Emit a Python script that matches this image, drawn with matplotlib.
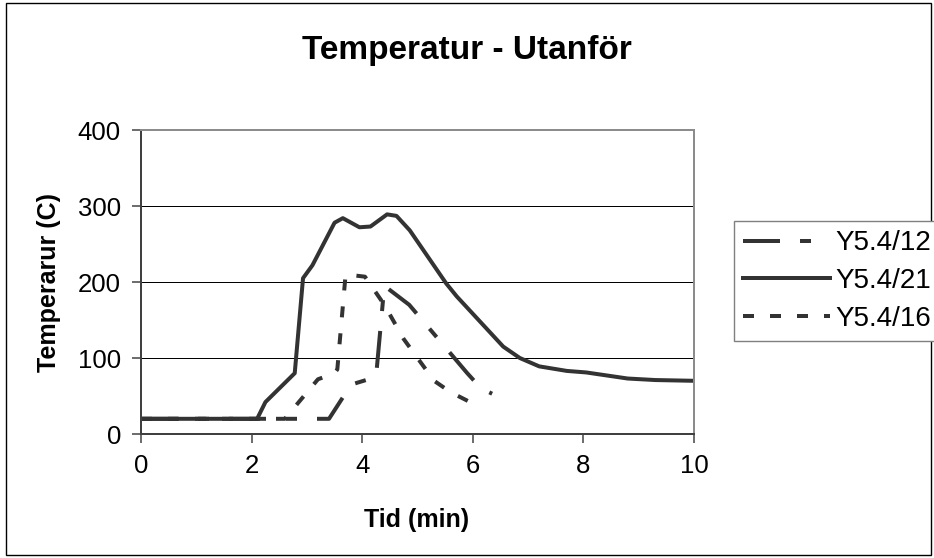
"""
Temperatur - Utanför: three thermocouple series (Y5.4/12, Y5.4/21, Y5.4/16)
plotted against time, styled like the old Excel chart.

Output: out.png (934x558)
"""
import matplotlib
matplotlib.use("Agg")
import matplotlib.pyplot as plt
from matplotlib.patches import Rectangle

# --- data -------------------------------------------------------------------
t_12 = [0, 3.4, 3.8, 4.25, 4.4, 4.85, 5.9, 6.15, 6.35]
temp_12 = [20, 20, 65, 75, 195, 170, 80, 60, 53]

t_21 = [0, 2.1, 2.25, 2.78, 2.93, 3.1, 3.5, 3.65, 3.95, 4.15, 4.45, 4.62,
        4.86, 5.52, 5.71, 6.55, 6.85, 7.2, 7.7, 8.05, 8.8, 9.3, 10]
temp_21 = [20, 20, 42, 80, 205, 222, 278, 284, 272, 273, 289, 287,
           268, 198, 181, 115, 100, 89, 83, 81, 73, 71, 70]

t_16 = [0, 2.6, 3.2, 3.5, 3.55, 3.7, 4.05, 4.4, 4.75, 5.0, 5.3, 5.6, 5.95]
temp_16 = [20, 20, 72, 80, 85, 210, 207, 170, 125, 100, 70, 55, 42]

labels = ["Y5.4/12", "Y5.4/21", "Y5.4/16"]
x_ticks = [0, 2, 4, 6, 8, 10]
y_ticks = [0, 100, 200, 300, 400]

title = "Temperatur - Utanför"
x_label = "Tid (min)"
y_label = "Temperarur (C)"

# --- layout (pixels of a 934x558 canvas) ------------------------------------
W, H, DPI = 934, 558, 100
PX = 72.0 / DPI  # points per pixel
LINE = "#333333"


def fx(px):
    return px / W


def fy(py):
    return 1 - py / H


plt.rcParams["font.family"] = ["Liberation Sans", "DejaVu Sans"]
plt.rcParams["lines.scale_dashes"] = False

fig = plt.figure(figsize=(W / DPI, H / DPI), dpi=DPI)

# outer chart border
fig.patches.append(Rectangle((fx(6), fy(555)), fx(925), 552 / H,
                             transform=fig.transFigure, fill=False,
                             edgecolor="black", linewidth=1.0))

ax = fig.add_axes([fx(141), fy(434), fx(694) - fx(141), fy(130) - fy(434)])

ax.plot(t_12, temp_12, color=LINE, lw=4 * PX, label=labels[0],
        dashes=(37 * PX, 20 * PX, 11 * PX, 20 * PX))
ax.plot(t_21, temp_21, color=LINE, lw=4 * PX, label=labels[1],
        solid_joinstyle="round")
ax.plot(t_16, temp_16, color=LINE, lw=4 * PX, label=labels[2],
        dashes=(11 * PX, 16 * PX))

ax.set_xlim(0, 10)
ax.set_ylim(0, 400)
ax.set_xticks(x_ticks)
ax.set_yticks(y_ticks)
ax.yaxis.grid(True, color="black", lw=1 * PX)
ax.set_axisbelow(True)

for side in ("left", "bottom"):
    ax.spines[side].set_color("#404040")
    ax.spines[side].set_linewidth(2 * PX)
for side in ("top", "right"):
    ax.spines[side].set_color("#8c8c8c")
    ax.spines[side].set_linewidth(2 * PX)

ax.tick_params(direction="out", length=9 * PX, width=1.5 * PX,
               color="#404040", labelsize=18.5, pad=8)

fig.text(fx(467), fy(50), title, ha="center", va="center",
         fontsize=24, fontweight="bold")
fig.text(fx(417), fy(520), x_label, ha="center", va="center",
         fontsize=18, fontweight="bold")
fig.text(fx(49), fy(282), y_label, ha="center", va="center",
         fontsize=18, fontweight="bold", rotation=90)

leg = fig.legend(loc="upper left", bbox_to_anchor=(fx(734), fy(221)),
                 bbox_transform=fig.transFigure, borderaxespad=0,
                 fontsize=20, handlelength=3.1, handletextpad=0.2,
                 borderpad=0.34, labelspacing=0.42,
                 fancybox=False, framealpha=1, edgecolor="#808080")
leg.get_frame().set_linewidth(1 * PX * 1.4)

fig.savefig("out.png", dpi=DPI)
